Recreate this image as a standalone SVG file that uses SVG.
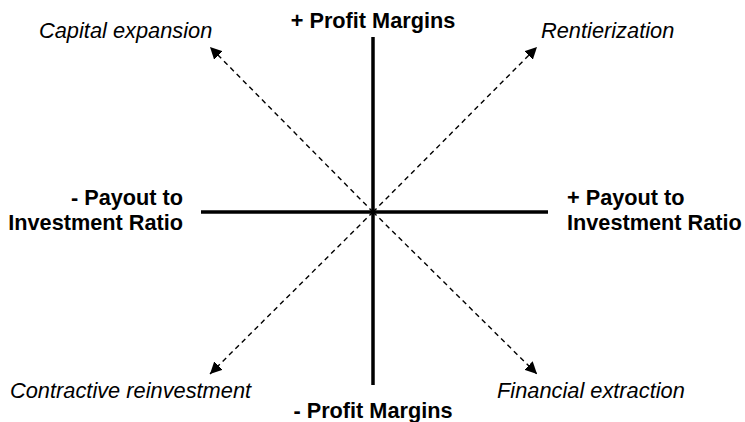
<svg xmlns="http://www.w3.org/2000/svg" width="745" height="422" viewBox="0 0 745 422">
<style>
.bold{font-family:"Liberation Sans",Arial,sans-serif;font-size:21.7px;font-weight:bold;fill:#000}
.ital{font-family:"Liberation Sans",Arial,sans-serif;font-size:21.8px;font-style:italic;fill:#000}
.axis{stroke:#000;stroke-width:3.5;fill:none}
.diag{stroke:#000;stroke-width:1.4;stroke-dasharray:5,4;fill:none}
</style>
<defs>
<marker id="ah" viewBox="0 0 12 12" refX="12" refY="6" markerWidth="12" markerHeight="12" markerUnits="userSpaceOnUse" orient="auto">
<path d="M0,0 L12,6 L0,12 z" fill="#000"/>
</marker>
</defs>
<rect width="745" height="422" fill="#fff"/>
<g id="connectors">
<line class="axis" x1="373" y1="37" x2="373" y2="385"/>
<line class="axis" x1="201" y1="212" x2="548" y2="212"/>
<line class="diag" x1="373" y1="212" x2="210" y2="47" marker-end="url(#ah)"/>
<line class="diag" x1="373" y1="212" x2="537" y2="47" marker-end="url(#ah)"/>
<line class="diag" x1="373" y1="212" x2="210" y2="374" marker-end="url(#ah)"/>
<line class="diag" x1="373" y1="212" x2="537" y2="374" marker-end="url(#ah)"/>
</g>
<g id="top"><text class="bold" x="373" y="28" text-anchor="middle">+ Profit Margins</text></g>
<g id="bottom"><text class="bold" x="373" y="418" text-anchor="middle">- Profit Margins</text></g>
<g id="left"><text class="bold" x="183" y="205" text-anchor="end">- Payout to</text><text class="bold" x="183" y="230" text-anchor="end">Investment Ratio</text></g>
<g id="right"><text class="bold" x="567" y="205">+ Payout to</text><text class="bold" x="567" y="230">Investment Ratio</text></g>
<g id="capital"><text class="ital" x="39" y="38">Capital expansion</text></g>
<g id="rentier"><text class="ital" x="541" y="38">Rentierization</text></g>
<g id="contractive"><text class="ital" x="10" y="398">Contractive reinvestment</text></g>
<g id="financial"><text class="ital" x="497" y="398">Financial extraction</text></g>
</svg>
